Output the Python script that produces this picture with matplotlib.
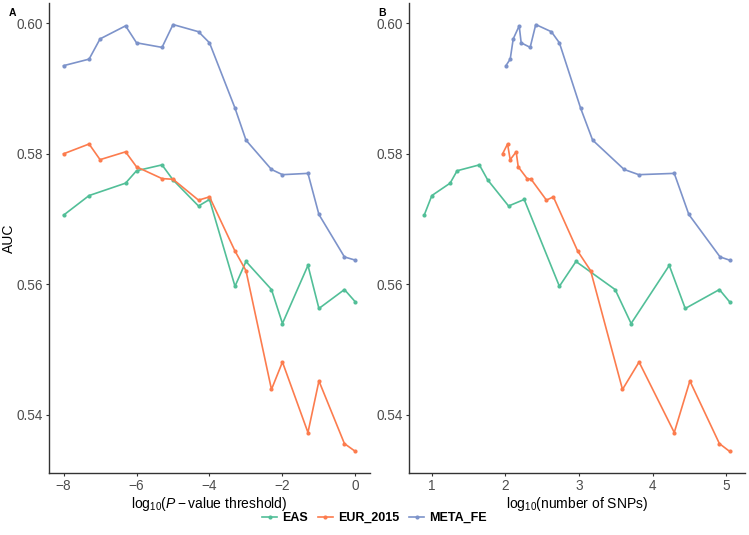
import matplotlib
matplotlib.use("Agg")
import matplotlib.pyplot as plt
from matplotlib.lines import Line2D

plt.rcParams['font.family'] = ['Liberation Sans', 'DejaVu Sans']
plt.rcParams['mathtext.fontset'] = 'custom'
plt.rcParams['mathtext.rm'] = 'Liberation Sans'
plt.rcParams['mathtext.it'] = 'Liberation Sans:italic'

# log10 of p-value thresholds
p_all = [-8, -7.301, -7, -6.301, -6, -5.301, -5, -4.301, -4,
         -3.301, -3, -2.301, -2, -1.301, -1, -0.301, 0]
p_eas = [-8, -7.301, -6.301, -6, -5.301, -5, -4.301, -4,
         -3.301, -3, -2.301, -2, -1.301, -1, -0.301, 0]

auc_eas = [0.5706, 0.5736, 0.5755, 0.5774, 0.5783, 0.5760, 0.5720, 0.5730,
           0.5597, 0.5635, 0.5592, 0.5540, 0.5629, 0.5563, 0.5592, 0.5573]
auc_eur = [0.5800, 0.5815, 0.5791, 0.5803, 0.5780, 0.5762, 0.5761, 0.5729, 0.5734,
           0.5651, 0.5621, 0.5439, 0.5481, 0.5373, 0.5452, 0.5356, 0.5344]
auc_meta = [0.5935, 0.5945, 0.5976, 0.5996, 0.5970, 0.5963, 0.5998, 0.5987, 0.5970,
            0.5870, 0.5821, 0.5776, 0.5768, 0.5770, 0.5707, 0.5642, 0.5637]

# log10 of number of SNPs
snp_eas = [0.896, 1.0, 1.248, 1.343, 1.645, 1.758, 2.042, 2.254,
           2.732, 2.957, 3.489, 3.706, 4.224, 4.441, 4.905, 5.045]
snp_eur = [1.961, 2.028, 2.064, 2.145, 2.173, 2.294, 2.348, 2.556, 2.650,
           2.980, 3.156, 3.589, 3.814, 4.292, 4.504, 4.905, 5.045]
snp_meta = [2.006, 2.064, 2.105, 2.186, 2.213, 2.335, 2.411, 2.623, 2.732,
            3.020, 3.183, 3.611, 3.810, 4.292, 4.490, 4.914, 5.045]

colors = {'EAS': '#52BF98', 'EUR_2015': '#FC7C4E', 'META_FE': '#7D93CA'}

fig = plt.figure(figsize=(7.49, 5.35), dpi=100)
ax1 = fig.add_axes([0.0654, 0.1159, 0.4286, 0.8785])
ax2 = fig.add_axes([0.546, 0.1159, 0.4486, 0.8785])

def draw(ax, xs, title):
    for name, x, y in zip(['EAS', 'EUR_2015', 'META_FE'], xs,
                          [auc_eas, auc_eur, auc_meta]):
        ax.plot(x, y, color=colors[name], lw=1.2, marker='o', ms=3,
                markeredgewidth=0)
    ax.set_ylim(0.5311, 0.6031)
    ax.set_yticks([0.54, 0.56, 0.58, 0.60])
    ax.set_yticklabels(['0.54', '0.56', '0.58', '0.60'])
    for s in ['top', 'right']:
        ax.spines[s].set_visible(False)
    for s in ['left', 'bottom']:
        ax.spines[s].set_color('#333333')
        ax.spines[s].set_linewidth(1.0)
    ax.tick_params(colors='#333333', labelcolor='#4D4D4D', length=2.5,
                   width=0.8, labelsize=9.8, pad=2)
    ax.set_xlabel(title, fontsize=10, labelpad=1)

draw(ax1, [p_eas, p_all, p_all],
     r'$\mathrm{log}_{10}(\mathit{P} - \mathrm{value\ threshold})$')
ax1.set_xlim(-8.4, 0.4)
ax1.set_xticks([-8, -6, -4, -2, 0])
ax1.set_xticklabels(['\u22128', '\u22126', '\u22124', '\u22122', '0'])
ax1.set_ylabel('AUC', fontsize=10)
ax1.yaxis.set_label_coords(-0.103, 0.5)

draw(ax2, [snp_eas, snp_eur, snp_meta],
     r'$\mathrm{log}_{10}(\mathrm{number\ of\ SNPs})$')
ax2.set_xlim(0.689, 5.252)
ax2.set_xticks([1, 2, 3, 4, 5])

fig.text(0.012, 0.985, 'A', fontsize=7.5, fontweight='bold', va='top')
fig.text(0.505, 0.985, 'B', fontsize=7.5, fontweight='bold', va='top')

handles = [Line2D([], [], color=colors[n], lw=1.2, marker='o', ms=3,
                  markeredgewidth=0) for n in colors]
leg = fig.legend(handles, list(colors), loc='center', ncol=3,
                 bbox_to_anchor=(0.5, 0.032), frameon=False, handlelength=1.2,
                 handletextpad=0.4, columnspacing=0.8,
                 prop={'weight': 'bold', 'size': 9})

fig.savefig('out.png', dpi=100)
